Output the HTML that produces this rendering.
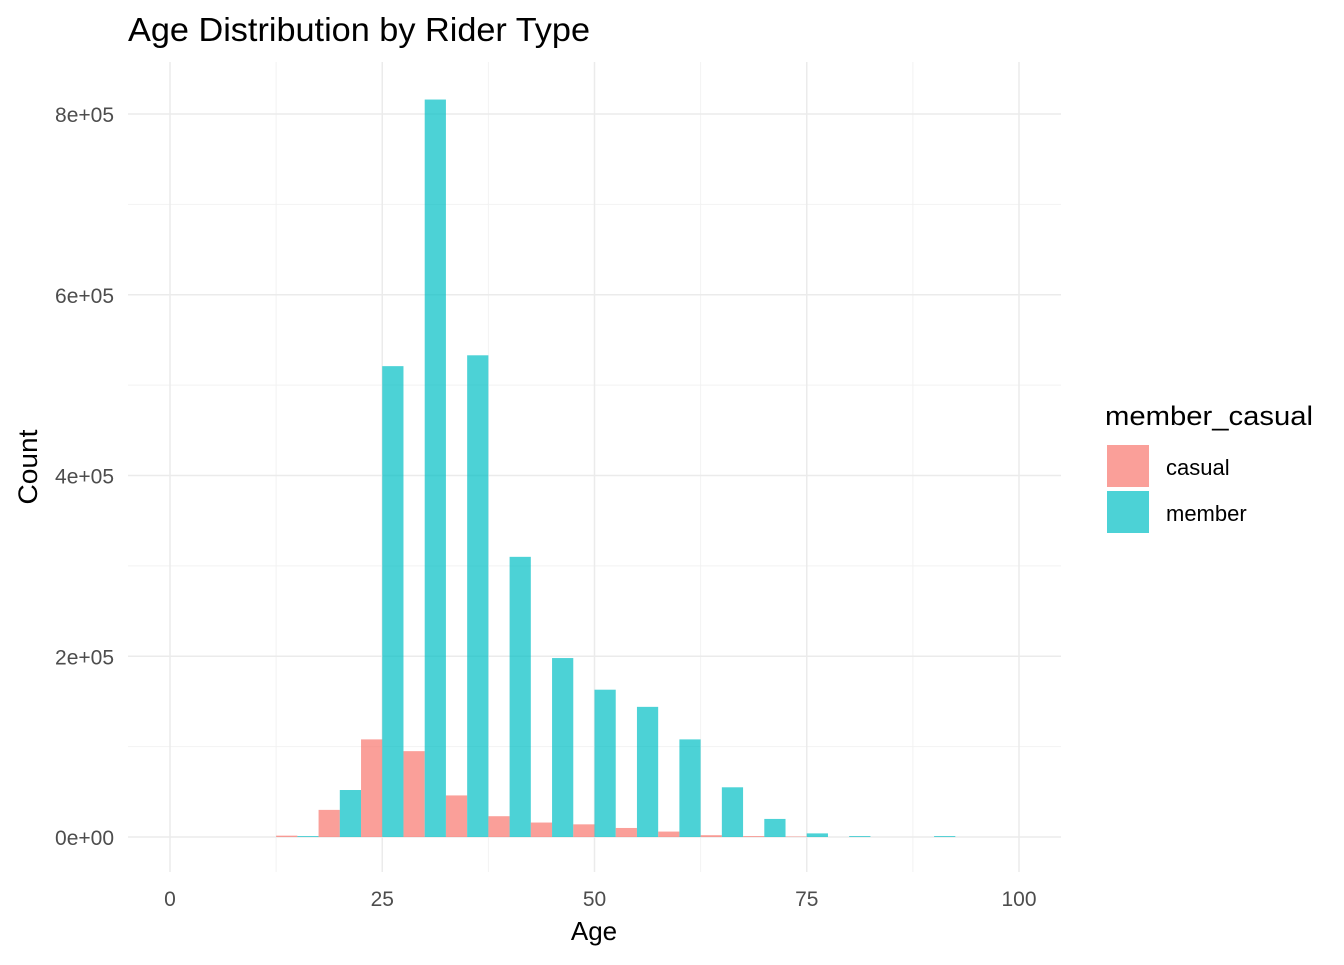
<!DOCTYPE html>
<html><head><meta charset="utf-8"><style>body{margin:0;background:#fff}svg{font-family:"Liberation Sans",Arial,sans-serif}</style></head>
<body>
<svg width="1344" height="960">
<g id="grid"></g>
<g id="bars"></g>
<g id="axes"></g>
<text x="128" y="41" font-size="33" textLength="462" lengthAdjust="spacingAndGlyphs" fill="#000">Age Distribution by Rider Type</text>
<text x="594" y="940" font-size="26" text-anchor="middle">Age</text>
<text transform="translate(37,467) rotate(-90)" font-size="27" text-anchor="middle" textLength="75" lengthAdjust="spacingAndGlyphs">Count</text>
<g>
<text x="1105" y="425" font-size="27" textLength="208" lengthAdjust="spacingAndGlyphs">member_casual</text>
<rect x="1107" y="445" width="42" height="42" fill="#F8766D" fill-opacity="0.7"/>
<text x="1166" y="475" font-size="22">casual</text>
<rect x="1107" y="491" width="42" height="42" fill="#00BFC4" fill-opacity="0.7"/>
<text x="1166" y="521" font-size="22">member</text>
</g>
</svg>
<script>
const binCenters=[15,20,25,30,35,40,45,50,55,60,65,70,75,80,85,90];
const casualCounts=[1500,30000,108000,95000,46000,23000,16000,14000,10000,6000,2000,1000,500,0,0,0];
const memberCounts=[1000,52000,521000,816000,533000,310000,198000,163000,144000,108000,55000,20000,4000,1000,0,1000];
const xTicks=[0,25,50,75,100];
const yTicks=[0,200000,400000,600000,800000];
const yTickLabels=["0e+00","2e+05","4e+05","6e+05","8e+05"];
const X=v=>170+v*8.49, Y=v=>837-v*723/800000;
const ns="http://www.w3.org/2000/svg";
function mk(p,t,a){const e=document.createElementNS(ns,t);for(const k in a)e.setAttribute(k,a[k]);p.appendChild(e);return e;}
const g=document.getElementById('grid'),b=document.getElementById('bars'),ax=document.getElementById('axes');
const L=128,R=1061,T=62,B=872;
[12.5,37.5,62.5,87.5].forEach(v=>{const l=mk(g,'line',{x1:X(v),x2:X(v),y1:T,y2:B,stroke:'#f2f2f2','stroke-width':1});});
[100000,300000,500000,700000].forEach(v=>{const l=mk(g,'line',{x1:L,x2:R,y1:Y(v),y2:Y(v),stroke:'#f2f2f2','stroke-width':1});});
xTicks.forEach(v=>{const l=mk(g,'line',{x1:X(v),x2:X(v),y1:T,y2:B,stroke:'#ebebeb','stroke-width':1.5});
const t=mk(ax,'text',{x:X(v),y:906,'font-size':21,'text-anchor':'middle',fill:'#4d4d4d'});t.textContent=v;});
yTicks.forEach((v,i)=>{const l=mk(g,'line',{x1:L,x2:R,y1:Y(v),y2:Y(v),stroke:'#ebebeb','stroke-width':1.5});
const t=mk(ax,'text',{x:114,y:Y(v)+8,'font-size':21,'text-anchor':'end',fill:'#4d4d4d'});t.textContent=yTickLabels[i];});
binCenters.forEach((c,i)=>{
const r1=mk(b,'rect',{x:X(c-2.5),width:X(c)-X(c-2.5),y:Y(casualCounts[i]),height:Y(0)-Y(casualCounts[i]),fill:'#F8766D','fill-opacity':0.7});

const r2=mk(b,'rect',{x:X(c),width:X(c+2.5)-X(c),y:Y(memberCounts[i]),height:Y(0)-Y(memberCounts[i]),fill:'#00BFC4','fill-opacity':0.7});

});
</script>
</body></html>
